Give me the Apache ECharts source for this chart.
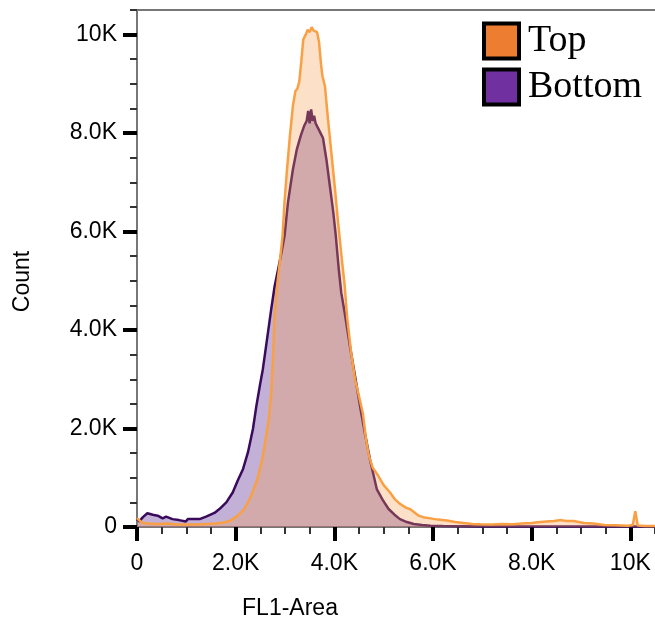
<!DOCTYPE html>
<html>
<head>
<meta charset="utf-8">
<script src="https://cdn.jsdelivr.net/npm/echarts@6/dist/echarts.min.js"></script>
<style>
  html, body { margin: 0; padding: 0; background: #fff; }
  #chart { width: 655px; height: 626px; }
</style>
</head>
<body>
<div id="chart"></div>
<script>
// FL1-Area histogram, two overlaid samples; [FL1-Area, Count]
const topData = [
  [0, 180], [100, 90], [200, 70], [400, 60], [600, 70], [800, 50], [1000, 50], [1200, 50],
  [1400, 60], [1600, 70], [1760, 90], [1890, 130], [2030, 220], [2170, 360], [2300, 600],
  [2440, 970], [2540, 1380], [2610, 1790], [2670, 2190], [2720, 2700], [2760, 3500],
  [2790, 4300], [2840, 4900], [2880, 5250], [2950, 5900], [2990, 6600], [3040, 7250],
  [3100, 7950], [3160, 8550], [3210, 8850], [3250, 8900], [3290, 9050], [3330, 9450],
  [3370, 9900], [3420, 10000], [3460, 10100], [3500, 10050], [3540, 10150], [3580, 10080],
  [3620, 10120], [3650, 10050], [3690, 9850], [3730, 9400], [3760, 9150], [3810, 8950],
  [3870, 8300], [3940, 7600], [4010, 6900], [4070, 6250], [4140, 5550], [4210, 4900],
  [4260, 4250], [4340, 3550], [4420, 3000], [4490, 2700], [4580, 2300], [4640, 1800],
  [4700, 1450], [4780, 1200], [4890, 1040], [5000, 850], [5130, 700], [5230, 560],
  [5330, 470], [5440, 400], [5540, 360], [5620, 300], [5710, 230], [5800, 200], [5950, 175],
  [6100, 150], [6280, 130], [6450, 100], [6620, 80], [6800, 60], [6960, 55], [7200, 50],
  [7400, 60], [7600, 55], [7800, 70], [8000, 80], [8120, 95], [8300, 110], [8450, 120],
  [8600, 140], [8700, 120], [8850, 120], [9060, 80], [9250, 70], [9470, 40], [9700, 35],
  [9950, 25], [10050, 40], [10100, 320], [10150, 30], [10300, 20], [10500, 20]
];
const bottomData = [
  [0, 160], [40, 110], [120, 200], [210, 280], [320, 250], [420, 230], [520, 175], [590, 210],
  [720, 160], [850, 140], [990, 110], [1030, 160], [1270, 160], [1400, 210], [1570, 285],
  [1670, 365], [1810, 500], [1940, 700], [2040, 940], [2150, 1180], [2250, 1520],
  [2350, 1990], [2420, 2460], [2490, 2870], [2550, 3200], [2620, 3700], [2720, 4420],
  [2790, 4890], [2860, 5230], [2930, 5580], [2990, 5910], [3060, 6590], [3160, 7260],
  [3240, 7670], [3320, 7950], [3390, 8150], [3440, 8250], [3470, 8450], [3500, 8200],
  [3530, 8480], [3560, 8250], [3590, 8350], [3620, 8200], [3670, 8100], [3720, 8000],
  [3770, 7900], [3840, 7460], [3910, 6920], [3980, 6380], [4030, 5910], [4090, 5230],
  [4140, 4760], [4210, 4350], [4320, 3650], [4430, 3000], [4530, 2400], [4630, 1850],
  [4720, 1380], [4860, 770], [4980, 550], [5100, 365], [5220, 250], [5330, 160],
  [5470, 100], [5610, 60], [5780, 40], [5950, 25], [6200, 20], [6600, 15], [7000, 10],
  [8000, 10], [9000, 10], [10000, 10], [10500, 10]
];
const seriesNames = ['Top', 'Bottom'];
const legendColors = ['#ED7D31', '#7030A0'];
const majorTicks = [0, 2000, 4000, 6000, 8000, 10000];

function kFormat(v) {
  if (v === 0) return '0';
  if (v >= 10000) return (v / 1000) + 'K';
  return (v / 1000).toFixed(1) + 'K';
}

const labelFont = { color: '#000', fontSize: 23, fontFamily: 'Liberation Sans, Arial, sans-serif' };
const axisLineStyle = { show: true, lineStyle: { color: '#777', width: 2 } };

// small ticks every 500
function minorAxis(extra) {
  return Object.assign({
    type: 'value', min: 0, max: 10500, interval: 500,
    axisLine: axisLineStyle,
    axisTick: { show: true, length: 7, lineStyle: { color: '#333', width: 2 } },
    axisLabel: { show: false },
    splitLine: { show: false }
  }, extra);
}
// big ticks + labels every 2000
function majorAxis(extra, margin) {
  return Object.assign({
    type: 'value', min: 0, max: 10500,
    axisLine: { show: false },
    axisTick: { show: true, length: 14, customValues: majorTicks, lineStyle: { color: '#000', width: 4 } },
    axisLabel: Object.assign({ customValues: majorTicks, formatter: kFormat, margin: margin }, labelFont),
    splitLine: { show: false }
  }, extra);
}

var chart = echarts.init(document.getElementById('chart'));
var option = {
  animation: false,
  backgroundColor: '#fff',
  grid: { left: 137, right: 0, top: 10, bottom: 99 },
  legend: {
    orient: 'vertical',
    left: 477,
    top: 16,
    icon: 'rect',
    itemWidth: 35,
    itemHeight: 35,
    itemGap: 6,
    textStyle: { color: '#000', fontSize: 38, lineHeight: 34, fontFamily: 'Liberation Serif, Times New Roman, serif', padding: [6, 0, 0, 4] },
    data: seriesNames.map((n, i) => ({
      name: n,
      itemStyle: { color: legendColors[i], borderColor: '#000', borderWidth: 4 }
    }))
  },
  xAxis: [
    minorAxis({ position: 'bottom' }),
    majorAxis({
      position: 'bottom',
      name: 'FL1-Area',
      nameLocation: 'middle',
      nameGap: 70,
      nameTextStyle: Object.assign({ padding: [0, 212, 0, 0] }, labelFont)
    }, 25),
    {
      type: 'value', position: 'top', min: 0, max: 10500,
      axisLine: axisLineStyle,
      axisTick: { show: false },
      axisLabel: { show: false },
      splitLine: { show: false }
    }
  ],
  yAxis: [
    minorAxis({ position: 'left' }),
    majorAxis({
      position: 'left',
      name: 'Count',
      nameLocation: 'middle',
      nameGap: 103,
      nameTextStyle: Object.assign({ padding: [0, 26, 0, 0] }, labelFont)
    }, 20)
  ],
  series: [{
    name: 'Bottom',
    type: 'line',
    data: bottomData,
    symbol: 'none',
    z: 2,
    lineStyle: { color: '#3A0A5C', width: 2.5 },
    itemStyle: { color: '#7030A0' },
    areaStyle: { color: 'rgba(110,67,157,0.6)' }
  }, {
    name: 'Top',
    type: 'line',
    data: topData,
    symbol: 'none',
    z: 3,
    lineStyle: { color: '#F8A043', width: 2.5 },
    itemStyle: { color: '#ED7D31' },
    areaStyle: { color: 'rgba(250,157,82,0.45)' }
  }]
};
chart.setOption(option);
</script>
</body>
</html>
